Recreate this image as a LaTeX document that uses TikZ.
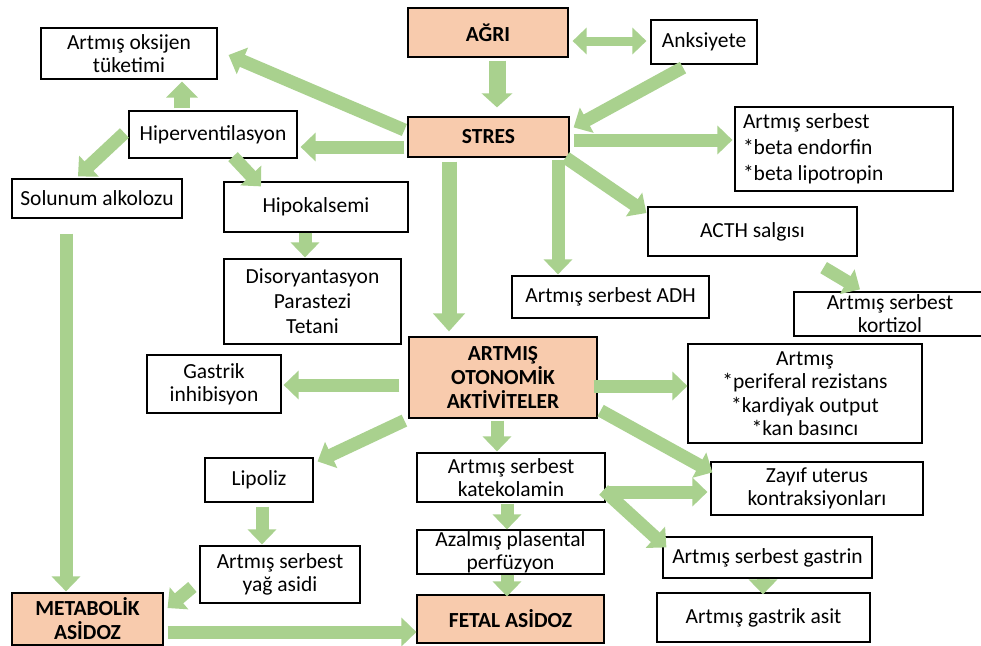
\documentclass[tikz,border=0pt]{standalone}
\usepackage{fontspec}
\setmainfont{Carlito}
\usetikzlibrary{arrows.meta,calc}
\definecolor{peach}{HTML}{F8CBAD}
\definecolor{agreen}{HTML}{A9D18E}
\begin{document}
\begin{tikzpicture}[x=1pt,y=-1pt,
  box/.style={draw=black, line width=1.2pt, fill=white, inner sep=0pt, align=center,
              font=\fontsize{21.5}{23}\selectfont, text=black},
  key/.style={box, fill=peach, font=\fontsize{21.5}{24}\selectfont\bfseries},
  fat/.style={draw=agreen, line width=13pt, -{Triangle[width=28pt,length=15pt]}},
  dfat/.style={draw=agreen, line width=9pt, {Triangle[width=26pt,length=14pt]}-{Triangle[width=26pt,length=14pt]}},
]
\useasboundingbox (0,0) rectangle (981,645);
\fill[white] (0,0) rectangle (981,645);
\clip (0,0) rectangle (981,645);

% nodes
\node[key, minimum width=160pt, minimum height=49pt] (agri) at (488,32.5) {AĞRI};
\node[box, minimum width=106pt, minimum height=44pt] (anks) at (704,42) {Anksiyete};
\node[key, minimum width=161pt, minimum height=40pt] (stres) at (488.5,137) {STRES};
\node[box, minimum width=176pt, minimum height=51pt] (oksijen) at (129,53.5) {Artmış oksijen\\tüketimi};
\node[box, minimum width=168pt, minimum height=47pt] (hiper) at (213,134.5) {Hiperventilasyon};
\node[box, minimum width=170pt, minimum height=39pt] (solunum) at (97,198.5) {Solunum alkolozu};
\node[box, minimum width=184pt, minimum height=50pt] (hipokal) at (316,207) {Hipokalsemi};
\node[box, minimum width=177pt, minimum height=85pt, font=\fontsize{21.5}{25}\selectfont] (disor) at (312.5,301.5) {Disoryantasyon\\Parastezi\\Tetani};
\node[box, minimum width=134pt, minimum height=58pt] (gastrik) at (214,384) {Gastrik\\inhibisyon};
\node[key, minimum width=188pt, minimum height=81pt] (otonom) at (503,377.5) {ARTMIŞ\\OTONOMİK\\AKTİVİTELER};
\node[box, text width=202pt, inner xsep=8pt, minimum height=84pt, align=left, font=\fontsize{21.5}{26}\selectfont,
      execute at begin node={\spaceskip=0pt\xspaceskip=0pt\relax}] (beta) at (844,149) {Artmış serbest\\{}*beta endorfin\\{}*beta lipotropin};
\node[box, minimum width=209pt, minimum height=49pt] (acth) at (752.5,231.5) {ACTH salgısı};
\node[box, minimum width=197pt, minimum height=42pt] (adh) at (610.5,297) {Artmış serbest ADH};
\node[box, minimum width=192pt, minimum height=44pt] (kortizol) at (890,314) {Artmış serbest\\kortizol};
\node[box, minimum width=234pt, minimum height=99pt, font=\fontsize{21.5}{23.5}\selectfont] (perif) at (805,393.5) {Artmış\\{}*periferal rezistans\\{}*kardiyak output\\{}*kan basıncı};
\node[box, minimum width=108pt, minimum height=44pt] (lipoliz) at (259,480) {Lipoliz};
\node[box, minimum width=160pt, minimum height=57pt] (yag) at (280,574.5) {Artmış serbest\\yağ asidi};
\node[key, minimum width=151pt, minimum height=52pt] (metab) at (87.5,619) {METABOLİK\\ASİDOZ};
\node[box, minimum width=188pt, minimum height=49pt] (katekol) at (511,477.5) {Artmış serbest\\katekolamin};
\node[box, minimum width=187pt, minimum height=44pt] (azal) at (510.5,552) {Azalmış plasental\\perfüzyon};
\node[key, minimum width=187pt, minimum height=48pt] (fetal) at (510.5,619) {FETAL ASİDOZ};
\node[box, minimum width=212pt, minimum height=53pt] (zayif) at (817,488.5) {Zayıf uterus\\kontraksiyonları};
\node[box, minimum width=209pt, minimum height=41pt] (gastrin) at (767.5,557.5) {Artmış serbest gastrin};
\node[box, minimum width=213pt, minimum height=49pt] (asit) at (763.5,617.5) {Artmış gastrik asit};

% connectors
\draw[dfat] ($(agri.east)+(4,8.5)$) -- ($(anks.west)+(-4,-1)$);
\draw[fat, line width=17pt, -{Triangle[width=30pt,length=14pt]}] ($(agri.south)+(9,3)$) -- ($(stres.north)+(8.5,-9)$);
\draw[fat] ($(anks.south)+(-21,3)$) -- ($(stres.north east)+(4,11)$);
\draw[fat] ($(stres.east)+(4,3)$) -- ($(beta.west)+(-2,-9)$);
\draw[fat] ($(stres.west)+(-3,-7)$) -- ($(oksijen.east)+(11,1.5)$);
\draw[fat] ($(stres.west)+(-3,10)$) -- ($(hiper.east)+(3,12.5)$);
\draw[fat, line width=16pt, -{Triangle[width=31pt,length=16pt]}] ($(hiper.north)+(-31,-2)$) -- ($(oksijen.south)+(53,2)$);
\draw[fat] ($(hiper.west)+(-4,-1.5)$) -- ($(solunum.north)+(-19,-2)$);
\draw[fat] ($(hiper.south)+(20,-2)$) -- ($(hipokal.north)+(-55,5)$);
\draw[fat] ($(hipokal.south)+(-11,0)$) -- ($(disor.north)+(-7.5,-1)$);
\draw[fat] ($(solunum.south)+(-31,15)$) -- ($(metab.north)+(-21.5,-1)$);
\draw[fat, line width=15pt, -{Triangle[width=31pt,length=18pt]}] ($(stres.south)+(-39.5,4)$) -- ($(otonom.north)+(-54,-5)$);
\draw[fat] ($(stres.south)+(69.5,2)$) -- ($(adh.north)+(-52.5,-1)$);
\draw[fat] ($(stres.south east)+(-4,0)$) -- ($(acth.west)+(-1,-18.5)$);
\draw[fat] ($(acth.south east)+(-34,11)$) -- ($(kortizol.north)+(-30,-2)$);
\draw[fat] ($(otonom.west)+(-9,7.5)$) -- ($(gastrik.east)+(2,1)$);
\draw[fat] ($(otonom.east)+(-4,8.5)$) -- ($(perif.west)+(0,-7.5)$);
\draw[fat] ($(otonom.south east)+(3,-8)$) -- ($(zayif.north west)+(2,11)$);
\draw[fat] ($(otonom.south west)+(-4,2)$) -- ($(lipoliz.north east)+(4,4)$);
\draw[fat] ($(otonom.south)+(-6,2)$) -- ($(katekol.north)+(-14,-1)$);
\draw[fat] ($(katekol.east)+(2,14.5)$) -- ($(zayif.west)+(-3,3.5)$);
\draw[fat] ($(katekol.east)+(-2,12.5)$) -- ($(gastrin.north west)+(4,11)$);
\draw[fat] ($(katekol.south)+(-4,1)$) -- ($(azal.north)+(-3.5,0)$);
\draw[fat] ($(azal.south)+(-3.5,0)$) -- ($(fetal.north)+(-3.5,2)$);
\draw[fat] ($(gastrin.south)+(-4.5,0)$) -- ($(asit.north)+(-0.5,2)$);
\draw[fat] ($(lipoliz.south)+(3,4)$) -- ($(yag.north)+(-18,-1)$);
\draw[fat] ($(yag.west)+(-7,12.5)$) -- ($(metab.east)+(4,-11)$);
\draw[fat] ($(metab.east)+(4,13)$) -- ($(fetal.west)+(0,13)$);
\end{tikzpicture}
\end{document}
